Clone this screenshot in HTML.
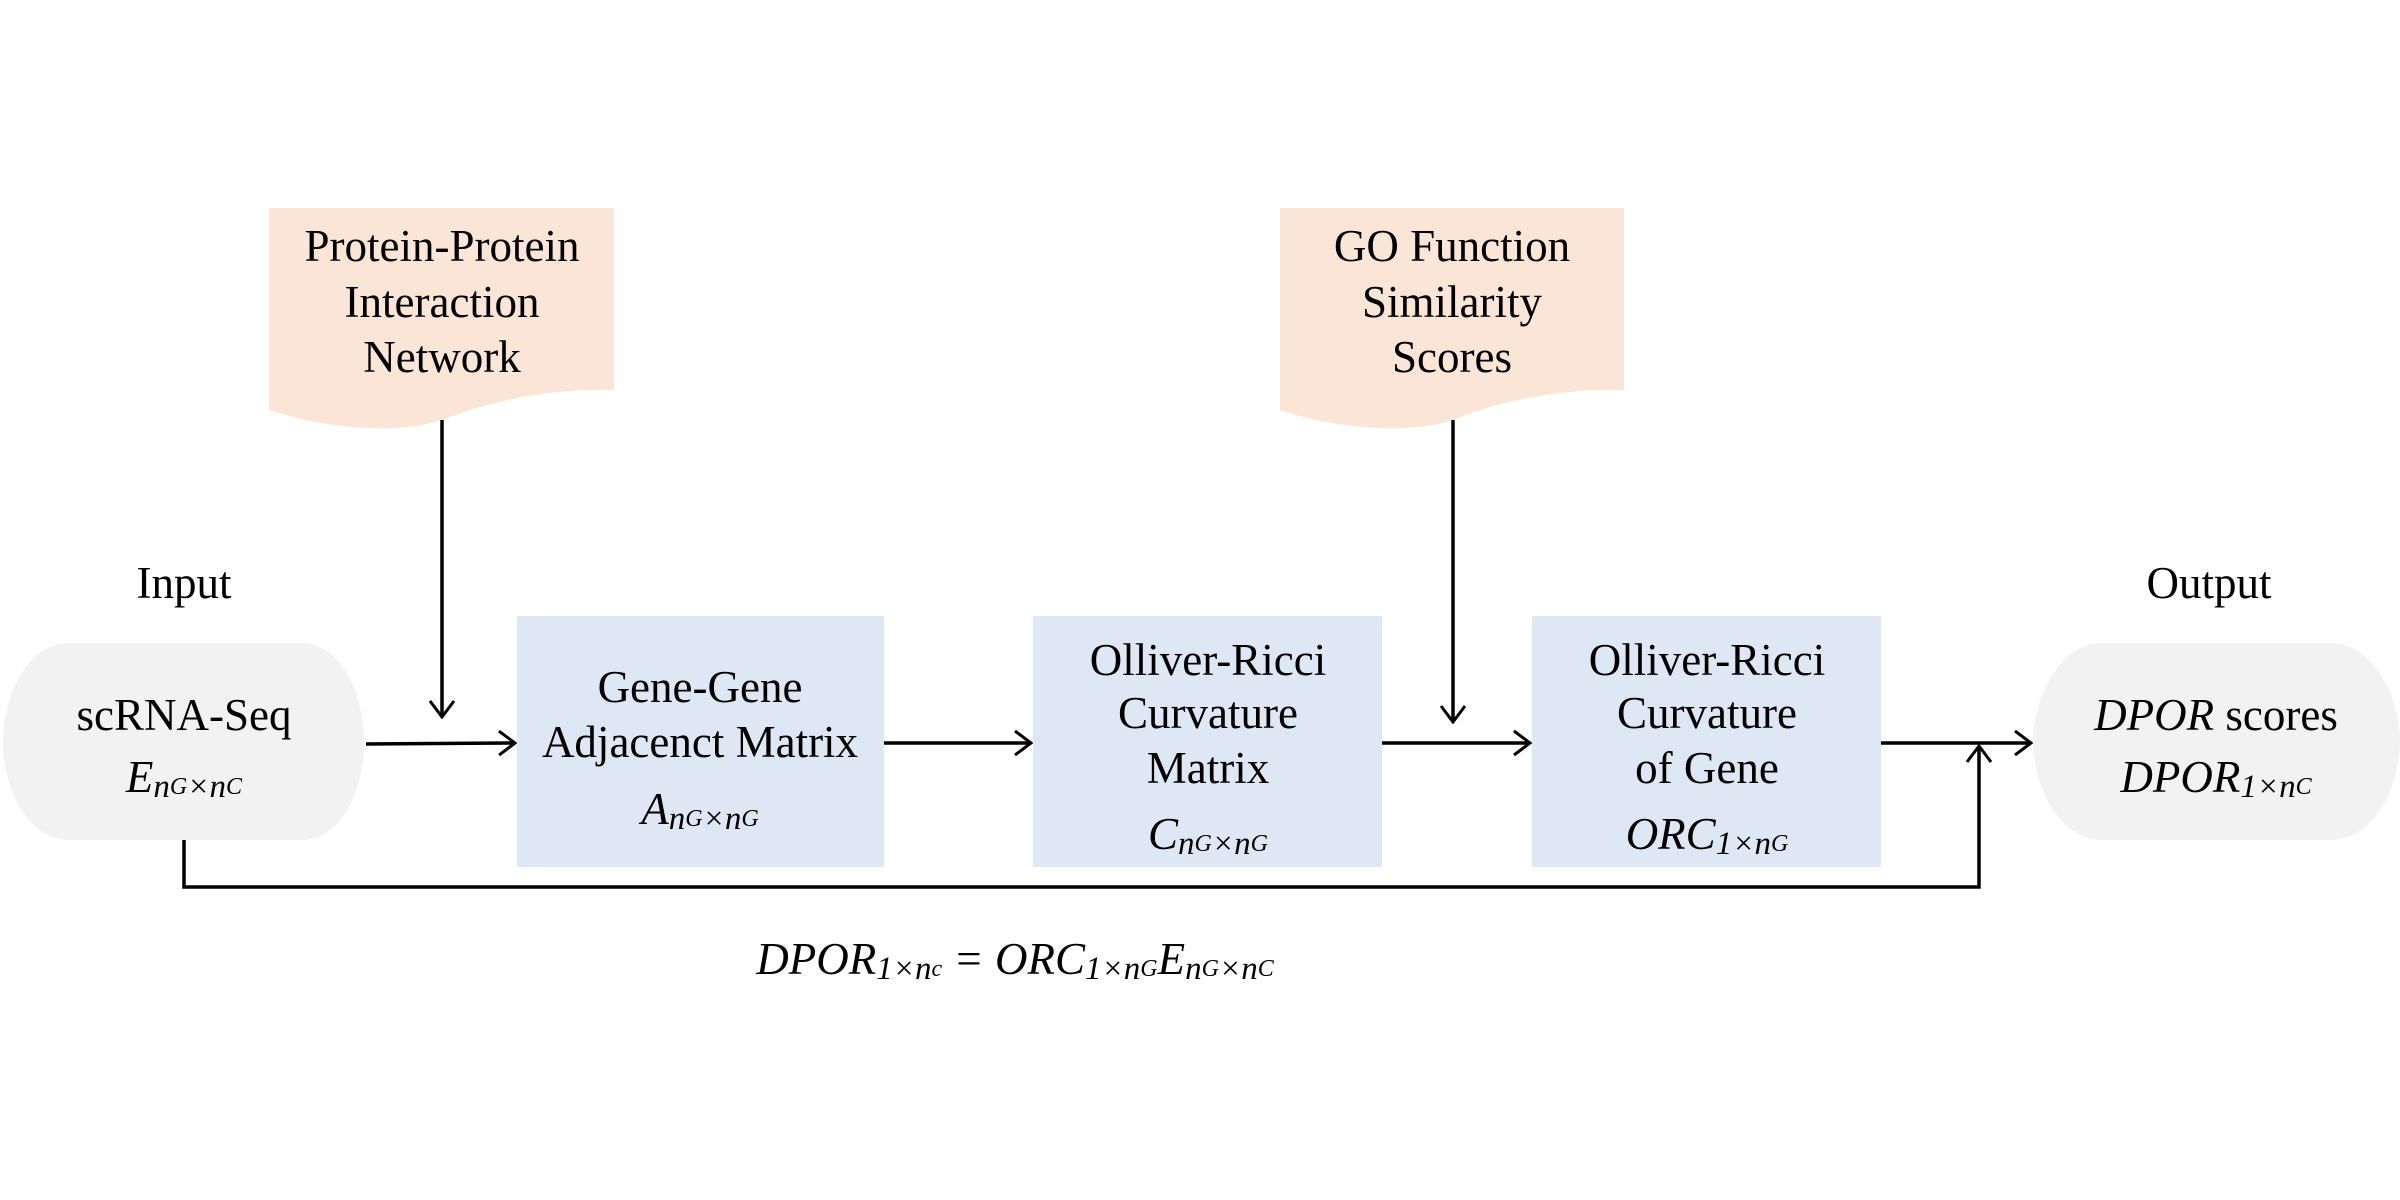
<!DOCTYPE html>
<html><head><meta charset="utf-8"><style>
html,body{margin:0;padding:0;background:#fff;}
svg{display:block}
text{font-family:"Liberation Serif",serif;font-size:45px;fill:#000;text-anchor:middle;dominant-baseline:central}
.m{font-style:italic}
</style></head><body>
<svg width="2400" height="1200" viewBox="0 0 2400 1200" xmlns="http://www.w3.org/2000/svg">
<defs>
<marker id="b" viewBox="0 0 20 30" markerWidth="20" markerHeight="30" refX="18" refY="15" orient="auto" markerUnits="userSpaceOnUse">
<path d="M2,3 L18,15 L2,27" fill="none" stroke="#000" stroke-width="3"/>
</marker>
</defs>
<path d="M269,208 H614 V390 C540,388 480,405 442,420 C400,434 330,430 269,410 Z" fill="#fae5d6"/>
<path d="M1280,208 H1624 V390 C1550,388 1490,405 1453,420 C1410,434 1340,430 1280,410 Z" fill="#fae5d6"/>
<text x="442" y="246">Protein-Protein</text>
<text x="442" y="302">Interaction</text>
<text x="442" y="357">Network</text>
<text x="1452" y="246">GO Function</text>
<text x="1452" y="302">Similarity</text>
<text x="1452" y="357">Scores</text>
<text x="184" y="583">Input</text>
<text x="2209" y="583">Output</text>
<path d="M70,643 H300 C345,643 364,700 364,742 C364,785 345,840 300,840 H70 C25,840 3,785 3,742 C3,700 25,643 70,643 Z" fill="#f2f2f2"/>
<path d="M2103,643 H2330 C2375,643 2400,700 2400,742 V742 C2400,785 2375,840 2330,840 H2103 C2058,840 2033,785 2033,742 C2033,700 2058,643 2103,643 Z" fill="#f2f2f2"/>
<text x="184" y="715">scRNA-Seq</text>
<text x="184" y="777" class="m">E<tspan font-size="33" dy="10">n<tspan font-size="24">G</tspan>×n<tspan font-size="24">C</tspan></tspan></text>
<text x="2216" y="715"><tspan class="m">DPOR</tspan> scores</text>
<text x="2216" y="777" class="m">DPOR<tspan font-size="33" dy="10">1×n<tspan font-size="24">C</tspan></tspan></text>
<rect x="517" y="616" width="367" height="251" fill="#dde8f4"/>
<rect x="1033" y="616" width="349" height="251" fill="#dde8f4"/>
<rect x="1532" y="616" width="349" height="251" fill="#dde8f4"/>
<text x="700" y="687">Gene-Gene</text>
<text x="700" y="742">Adjacenct Matrix</text>
<text x="700" y="809" class="m">A<tspan font-size="33" dy="10">n<tspan font-size="24">G</tspan>×n<tspan font-size="24">G</tspan></tspan></text>
<text x="1208" y="660">Olliver-Ricci</text>
<text x="1208" y="713">Curvature</text>
<text x="1208" y="768">Matrix</text>
<text x="1208" y="834" class="m">C<tspan font-size="33" dy="10">n<tspan font-size="24">G</tspan>×n<tspan font-size="24">G</tspan></tspan></text>
<text x="1707" y="660">Olliver-Ricci</text>
<text x="1707" y="713">Curvature</text>
<text x="1707" y="768">of Gene</text>
<text x="1707" y="834" class="m">ORC<tspan font-size="33" dy="10">1×n<tspan font-size="24">G</tspan></tspan></text>
<g stroke="#000" stroke-width="3.5" fill="none">
<line x1="366" y1="744" x2="515" y2="743" marker-end="url(#b)"/>
<line x1="884" y1="743" x2="1031" y2="743" marker-end="url(#b)"/>
<line x1="1382" y1="743" x2="1530" y2="743" marker-end="url(#b)"/>
<line x1="1881" y1="743" x2="2031" y2="743" marker-end="url(#b)"/>
<line x1="442" y1="420" x2="442" y2="717" marker-end="url(#b)"/>
<line x1="1453" y1="420" x2="1453" y2="722" marker-end="url(#b)"/>
<polyline points="184,840 184,887 1979,887 1979,746" marker-end="url(#b)"/>
</g>
<text x="1015" y="959" class="m">DPOR<tspan font-size="33" dy="10">1×n<tspan font-size="24">c</tspan></tspan><tspan dy="-10"> = ORC</tspan><tspan font-size="33" dy="10">1×n<tspan font-size="24">G</tspan></tspan><tspan dy="-10">E</tspan><tspan font-size="33" dy="10">n<tspan font-size="24">G</tspan>×n<tspan font-size="24">C</tspan></tspan></text>
</svg>
</body></html>
